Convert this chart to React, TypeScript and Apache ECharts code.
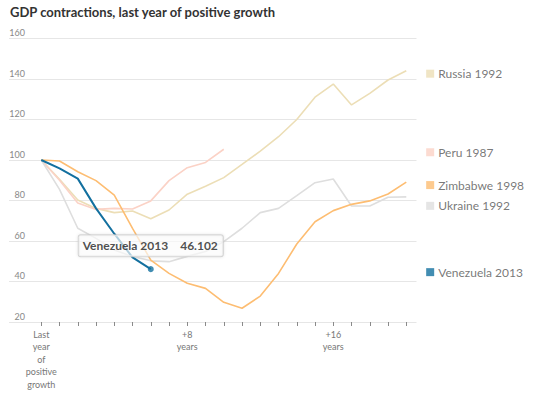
import React, { useEffect, useRef } from "react";
import * as echarts from "echarts";

// Years after the last year of positive growth
const yearsAfter = [0, 1, 2, 3, 4, 5, 6, 7, 8, 9, 10, 11, 12, 13, 14, 15, 16, 17, 18, 19, 20];

// GDP index (last year of positive growth = 100)
const russia1992 = [100, 90.5, 80.2, 76.1, 74, 74.8, 71, 75.3, 83.1, 87, 91.3, 97.8, 104.4, 111.5, 120, 131, 137.5, 127.2, 132.9, 139.5, 144.1];
const peru1987 = [100, 90, 78.8, 75.6, 76.1, 75.8, 79.8, 89.8, 96.2, 98.8, 105.3];
const zimbabwe1998 = [100, 99.5, 94.2, 89.8, 82.7, 66.2, 50.6, 44, 39.1, 36.6, 29.7, 26.8, 32.8, 44, 58.5, 69.5, 75, 78.1, 79.8, 83.2, 89.1];
const ukraine1992 = [100, 85.5, 66.3, 61.3, 55.6, 52.3, 50.2, 49.8, 52.4, 54.8, 59.7, 66.3, 74, 76.1, 82.4, 88.8, 90.6, 77.3, 77.3, 81.6, 81.8];
const venezuela2013 = [100, 95.9, 90.8, 76.1, 63.6, 51.9, 46.102];

const seriesNames = ["Russia 1992", "Peru 1987", "Zimbabwe 1998", "Ukraine 1992", "Venezuela 2013"];
const seriesColors = ["#ecdeb6", "#fbd2c6", "#fdbd72", "#dedede", "#13709f"];

// Axis ticks and labels
const yTicks = [20, 40, 60, 80, 100, 120, 140, 160];
const xLabelValues = [0, 8, 16];
const xLabelTexts = ["Last\nyear\nof\npositive\ngrowth", "+8\nyears", "+16\nyears"];

const FONT = "Lato";

export default function App() {
  const ref = useRef<HTMLDivElement>(null);

  useEffect(() => {
    document.body.style.margin = "0";
    if (!ref.current) return;
    const chart = echarts.init(ref.current, undefined, { renderer: "svg" });

    const allData = [russia1992, peru1987, zimbabwe1998, ukraine1992, venezuela2013];
    const toPairs = (arr: number[]) => arr.map((v, i) => [yearsAfter[i], v]);

    const lineSeries = allData.map((arr, k) => ({
      name: seriesNames[k],
      type: "line",
      data: toPairs(arr),
      symbol: "none",
      showSymbol: false,
      lineStyle: { color: seriesColors[k], width: k === 4 ? 2 : 1.6 },
      z: k === 4 ? 5 : k === 2 ? 4 : 2,
      silent: true,
    }));

    const vzLast = venezuela2013.length - 1;
    const tipSeries = {
      type: "scatter",
      data: [[yearsAfter[vzLast], venezuela2013[vzLast]]],
      symbol: "circle",
      symbolSize: 6,
      itemStyle: { color: seriesColors[4] },
      z: 10,
      silent: true,
      label: {
        show: true,
        position: "top",
        distance: 10,
        formatter: () => `{n|${seriesNames[4]}}{v|${venezuela2013[vzLast]}}`,
        backgroundColor: "rgba(255,255,255,0.82)",
        borderColor: "#cccccc",
        borderWidth: 1,
        borderRadius: 2,
        shadowBlur: 3,
        shadowColor: "rgba(0,0,0,0.12)",
        padding: [4, 5, 4, 4],
        rich: {
          n: { fontFamily: FONT, fontWeight: "bold", fontSize: 12, color: "#222", lineHeight: 13 },
          v: { fontFamily: FONT, fontWeight: "bold", fontSize: 12, color: "#222", lineHeight: 13, padding: [0, 0, 0, 12] },
        },
      },
    };

    const legendX = 21.09;
    const legendSeries = {
      type: "scatter",
      clip: false,
      symbolSize: 0,
      silent: true,
      z: 10,
      data: allData.map((arr, k) => ({
        value: [legendX, arr[arr.length - 1]],
        label: {
          show: true,
          position: "right",
          distance: 0,
          // Ukraine's label is nudged down so it clears Zimbabwe's
          offset: [0, k === 3 ? 9 : 3],
          formatter: () => `{sq|}{t|${seriesNames[k]}}`,
          rich: {
            sq: { width: 8, height: 8, backgroundColor: seriesColors[k], lineHeight: 14 },
            t: { fontFamily: FONT, fontSize: 12, color: "#555", lineHeight: 14, padding: [0, 0, 0, 4] },
          },
        },
      })),
    };

    chart.setOption({
      animation: false,
      title: {
        text: "GDP contractions, last year of positive growth",
        left: 5,
        top: 0,
        textStyle: { fontFamily: FONT, fontWeight: "bold", fontSize: 13, color: "#333" },
      },
      grid: { left: 9, right: 133.5, top: 38.5, bottom: 76, containLabel: false },
      xAxis: {
        type: "value",
        min: -1.768,
        max: 20.56,
        splitLine: { show: false },
        axisLine: { show: false },
        axisTick: {
          show: true,
          length: 4,
          customValues: yearsAfter,
          lineStyle: { color: "#8a8a8a", width: 1 },
        },
        axisLabel: {
          show: true,
          customValues: xLabelValues,
          margin: 6,
          fontFamily: FONT,
          fontSize: 9,
          lineHeight: 12.5,
          color: "#777",
          formatter: (v: number) => {
            const idx = xLabelValues.indexOf(Math.round(v));
            return idx >= 0 ? xLabelTexts[idx] : "";
          },
        },
      },
      yAxis: {
        type: "value",
        min: yTicks[0],
        max: yTicks[yTicks.length - 1],
        interval: 20,
        axisLine: { show: false },
        axisTick: { show: false },
        splitLine: { show: true, lineStyle: { color: "#e6e6e6", width: 1 } },
        axisLabel: {
          inside: true,
          align: "right",
          verticalAlign: "bottom",
          margin: 16,
          fontFamily: FONT,
          fontSize: 9,
          lineHeight: 10,
          padding: [0, 0, 1, 0],
          color: "#888",
        },
      },
      series: [...lineSeries, tipSeries, legendSeries],
    });

    return () => chart.dispose();
  }, []);

  return <div ref={ref} style={{ width: 550, height: 398 }} />;
}
